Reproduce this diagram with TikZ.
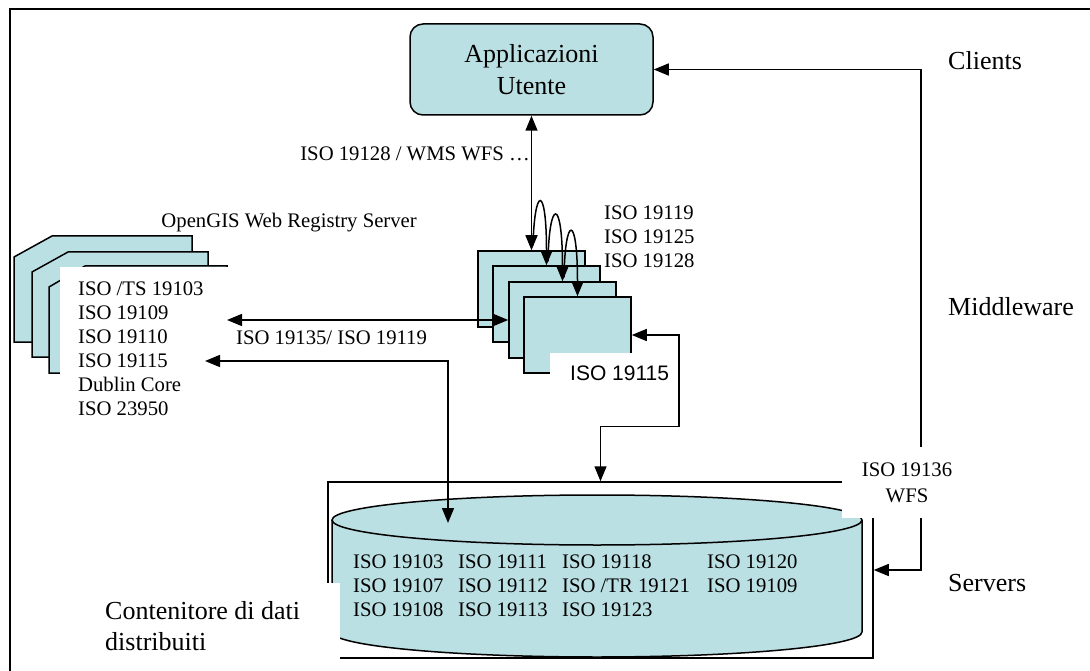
\documentclass[tikz,border=0pt]{standalone}
\usepackage{fontspec}
\setmainfont{Liberation Serif}
\newfontfamily\labsans{Liberation Sans}
\usetikzlibrary{arrows.meta,calc}
\definecolor{paleteal}{RGB}{187,224,227}
\newcommand\smallsize{\fontsize{20.7}{24}\selectfont}
\newcommand\bigsize{\fontsize{26}{31.5}\selectfont}
\begin{document}
\begin{tikzpicture}[x=1pt,y=-1pt,
  outline/.style={line width=1.5pt},
  stackbox/.style={draw, line width=1.5pt, fill=paleteal, rectangle,
    minimum width=107pt, minimum height=76pt, inner sep=0pt},
  lab/.style={inner sep=0pt, font=\smallsize},
  biglab/.style={inner sep=0pt, font=\bigsize},
  arr/.style={line width=1.5pt, -{Triangle[length=15pt,width=12pt]}},
  arr2/.style={line width=1.5pt,
    {Triangle[length=15pt,width=12pt]}-{Triangle[length=15pt,width=12pt]}},
  whiteout/.style={fill=white, draw=none}]

\useasboundingbox (0,0) rectangle (1090,671);

% outer frame
\draw[outline] (10,675) -- (10,9) -- (1095,9);

% registry server stack (chamfered sheets)
\filldraw[outline, fill=paleteal] (14,257) -- (52,236) -- (192,236) -- (192,342) -- (14,342) -- cycle;
\filldraw[outline, fill=paleteal] (32,272) -- (68,252) -- (208,252) -- (208,357) -- (32,357) -- cycle;
\filldraw[outline, fill=paleteal] (49,287) -- (85,266) -- (227,266) -- (227,373) -- (49,373) -- cycle;
\fill[whiteout] (60,266.8) rectangle (232,425);
\node[lab, anchor=north west, align=left] (reglist) at (78,282)
  {ISO /TS 19103\\ISO 19109\\ISO 19110\\ISO 19115\\Dublin Core\\ISO 23950};
\node[lab, anchor=base east] (regtitle) at (417,228) {OpenGIS Web Registry Server};

% middleware stack
\node[stackbox] (m1) at (531.5,289) {};
\node[stackbox] (m2) at (546.5,304) {};
\node[stackbox] (m3) at (562.5,320) {};
\node[stackbox] (m4) at (577.5,335) {};
\fill[whiteout] (550,352.8) rectangle (675,398);
\node[inner sep=0pt, font=\labsans\fontsize{21}{24}\selectfont, anchor=base west] (mdlab) at (570,380.5) {ISO 19115};
\node[lab, anchor=north west, align=left] (mwlist) at (604,206)
  {ISO 19119\\ISO 19125\\ISO 19128};

% data store: frame and cylinder
\node[draw, line width=1.5pt, minimum width=545pt, minimum height=176pt, inner sep=0pt] (store) at (600.5,570) {};
\fill[paleteal] (332,520) rectangle (862,632);
\fill[paleteal] (597,632) ellipse [x radius=265pt, y radius=25pt];
\draw[outline] (332,520) -- (332,632)
  .. controls (332,645.8) and (450.6,657) .. (597,657)
  .. controls (743.4,657) and (862,645.8) .. (862,632) -- (862,520);
\filldraw[outline, fill=paleteal] (597,520) ellipse [x radius=265pt, y radius=25pt];
\node[lab, anchor=north west, align=left] (col1) at (353,555) {ISO 19103\\ISO 19107\\ISO 19108};
\node[lab, anchor=north west, align=left] (col2) at (458,555) {ISO 19111\\ISO 19112\\ISO 19113};
\node[lab, anchor=north west, align=left] (col3) at (562,555) {ISO 19118\\ISO /TR 19121\\ISO 19123};
\node[lab, anchor=north west, align=left] (col4) at (707,555) {ISO 19120\\ISO 19109};
\fill[whiteout] (92,583) rectangle (340,672);
\node[biglab, anchor=north west, align=left] (storelab) at (105,601) {Contenitore di dati\\distribuiti};

% user applications
\node[draw, line width=1.5pt, fill=paleteal, rounded corners=13pt, minimum width=243pt,
  minimum height=91pt, align=center, font=\bigsize, inner sep=0pt] (app) at (531.5,69.5) {Applicazioni\\Utente};

% tier labels
\node[biglab, anchor=base west] (clients) at (948,70) {Clients};
\node[biglab, anchor=base west] (middle) at (948,316) {Middleware};
\node[biglab, anchor=base west] (servers) at (948,591) {Servers};

% free ends of the registry connectors
\coordinate (reg1) at (227,320);
\coordinate (reg2) at (205,361);
\coordinate (cyltop) at (448,523);

% connectors
\draw[arr2] (app.south) -- (m1.north);
\node[lab, anchor=base east] (applab) at (530,161) {ISO 19128 / WMS WFS \dots};
\draw[arr] ($(m1.north)+(1.5,-5)$) .. controls ($(m1.north)+(3,-64)$) and ($(m2.north)+(0,-82)$) .. (m2.north);
\draw[arr] ($(m2.north)+(1.5,-4)$) .. controls ($(m2.north)+(2.5,-66)$) and ($(m3.north)+(0,-86)$) .. (m3.north);
\draw[arr] ($(m3.north)+(1.5,-4)$) .. controls ($(m3.north)+(2.5,-66)$) and ($(m4.north)+(0,-84)$) .. (m4.north);
\draw[arr2] (reg1) -- (m3.west);
\node[lab, anchor=base west] (reglab) at (236,344) {ISO 19135/ ISO 19119};
\draw[arr2] (reg2) -| (cyltop);
\draw[arr2] (m4.east) -- ++(47,0) |- ($(store.north)+(0,-55)$) -- (store.north);
\draw[arr2] (store.east) -- ++(47,0) |- (app.east);

% label breaking the server connector
\node[lab, whiteout, align=center, minimum width=130pt, minimum height=71pt] (wfslab) at (907,482.5) {ISO 19136\\[2pt]WFS};
\end{tikzpicture}
\end{document}
